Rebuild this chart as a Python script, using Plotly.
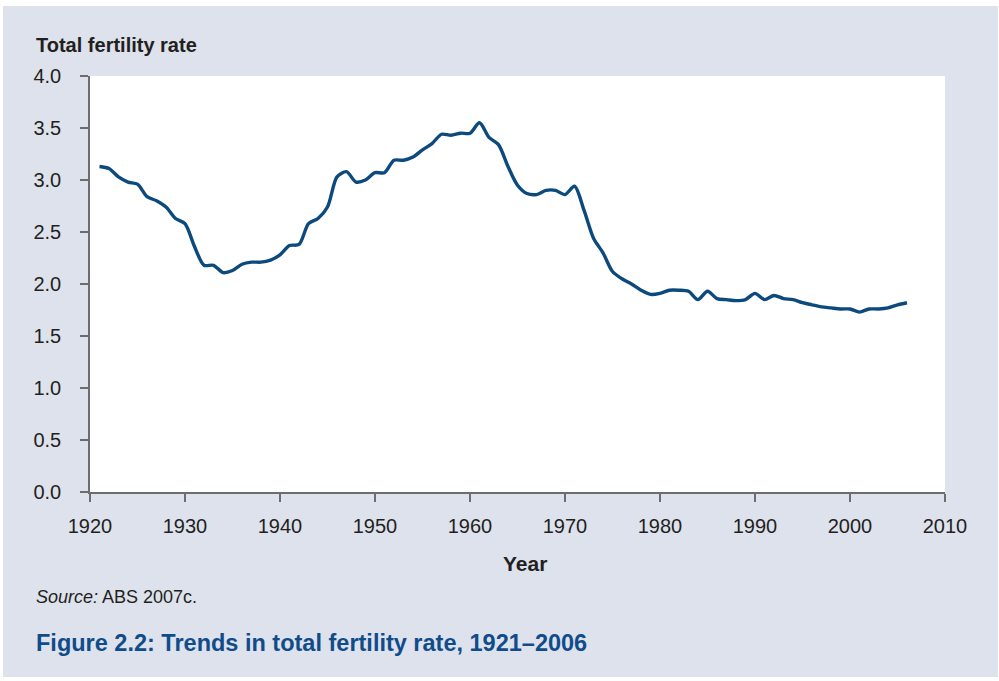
import plotly.graph_objects as go

years = list(range(1921, 2007))
tfr = [
    3.13, 3.11, 3.03, 2.98, 2.96, 2.84, 2.80, 2.74, 2.63, 2.58,  # 1921-1930
    2.36, 2.18, 2.18, 2.11, 2.13, 2.19, 2.21, 2.21, 2.23, 2.28,  # 1931-1940
    2.37, 2.38, 2.58, 2.63, 2.74, 3.03, 3.08, 2.98, 3.00, 3.07,  # 1941-1950
    3.07, 3.19, 3.19, 3.22, 3.29, 3.35, 3.44, 3.43, 3.45, 3.45,  # 1951-1960
    3.55, 3.41, 3.34, 3.13, 2.95, 2.87, 2.86, 2.90, 2.90, 2.86,  # 1961-1970
    2.94, 2.71, 2.44, 2.30, 2.12, 2.05, 2.00, 1.94, 1.90, 1.91,  # 1971-1980
    1.94, 1.94, 1.93, 1.85, 1.93, 1.86, 1.85, 1.84, 1.85, 1.91,  # 1981-1990
    1.85, 1.89, 1.86, 1.85, 1.82, 1.80, 1.78, 1.77, 1.76, 1.76,  # 1991-2000
    1.73, 1.76, 1.76, 1.77, 1.80, 1.82,                          # 2001-2006
]
x_ticks = [1920, 1930, 1940, 1950, 1960, 1970, 1980, 1990, 2000, 2010]
y_ticks = [0, 0.5, 1.0, 1.5, 2.0, 2.5, 3.0, 3.5, 4.0]
y_tick_text = [f"{v:.1f}" for v in y_ticks]

BG = "#dee2ed"
LINE = "#0c4a7e"
TXT = "#231f20"
AX = "#6d6d6d"
FONT = "Liberation Sans, Arial, sans-serif"

fig = go.Figure()
fig.add_trace(go.Scatter(
    x=years, y=tfr, mode="lines",
    line=dict(color=LINE, width=3.4, shape="spline", smoothing=0.8),
    hoverinfo="x+y", showlegend=False,
))

W, H = 999, 681
L, R, T, B = 90, 54, 76, 189
pw, ph = W - L - R, H - T - B

def px(xp):
    return (xp - L) / pw

def py(yp):
    return (H - B - yp) / ph

def white_strip(x0, x1, y0, y1):
    return dict(type="rect", xref="paper", yref="paper", layer="below",
                x0=px(x0), x1=px(x1), y0=py(y1), y1=py(y0),
                fillcolor="white", line=dict(width=0))

fig.update_layout(
    width=W, height=H,
    margin=dict(l=L, r=R, t=T, b=B, pad=0),
    paper_bgcolor=BG,
    plot_bgcolor="white",
    font=dict(family=FONT, color=TXT, size=18),
    shapes=[
        white_strip(0, W, 0, 6),
        white_strip(0, W, 677, H),
        white_strip(0, 3, 0, H),
        white_strip(998, W, 0, H),
    ],
    xaxis=dict(
        range=[1920, 2010], tickmode="array", tickvals=x_ticks,
        showgrid=False, zeroline=False, showline=True,
        linecolor=AX, linewidth=1.5, ticks="outside", ticklen=8,
        tickcolor=AX, tickwidth=1.5, tickfont=dict(size=20, color=TXT),
        ticklabelstandoff=7,
    ),
    yaxis=dict(
        range=[0, 4], tickmode="array", tickvals=y_ticks, ticktext=y_tick_text,
        showgrid=False, zeroline=False, showline=True,
        linecolor=AX, linewidth=1.5, ticks="outside", ticklen=8,
        tickcolor=AX, tickwidth=1.5, tickfont=dict(size=20, color=TXT),
        ticklabelstandoff=15,
    ),
    annotations=[
        dict(text="<b>Total fertility rate</b>", xref="paper", yref="paper",
             x=px(34), y=py(45), xanchor="left", yanchor="middle",
             showarrow=False, font=dict(size=20, color=TXT)),
        dict(text="<b>Year</b>", xref="paper", yref="paper",
             x=px(525), y=py(563), xanchor="center", yanchor="middle",
             showarrow=False, font=dict(size=21, color=TXT)),
        dict(text="<i>Source:</i> ABS 2007c.", xref="paper", yref="paper",
             x=px(34), y=py(597), xanchor="left", yanchor="middle",
             showarrow=False, font=dict(size=18, color=TXT)),
        dict(text="<b>Figure 2.2: Trends in total fertility rate, 1921–2006</b>",
             xref="paper", yref="paper",
             x=px(34), y=py(643), xanchor="left", yanchor="middle",
             showarrow=False, font=dict(size=23.5, color="#104c8a")),
    ],
)

fig.write_html(
    "out.html",
    config={"displayModeBar": False},
    post_script="document.body.style.margin='0';document.body.style.overflow='hidden';",
)
